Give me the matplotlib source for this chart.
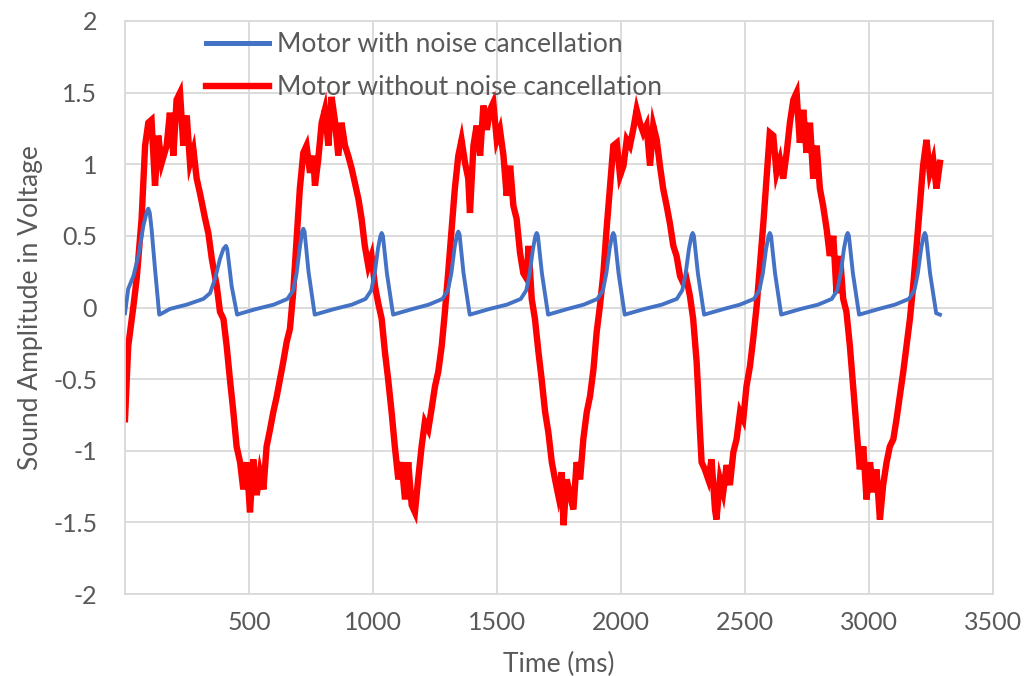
import matplotlib
matplotlib.use("Agg")
import matplotlib.pyplot as plt

# Motor sound recordings: amplitude (V) against time (ms)
time_with = [0, 13, 34, 54, 74, 88, 94, 100, 107, 121, 138, 150, 181, 249, 316, 343, 363, 383, 397, 407,
             412, 417, 430, 452, 470, 530, 600, 655, 678, 692, 705, 714, 719, 724, 740, 765, 785, 845,
             915, 970, 993, 1007, 1020, 1030, 1035, 1040, 1056, 1081, 1100, 1160, 1225, 1280, 1302, 1316,
             1329, 1339, 1344, 1349, 1365, 1390, 1410, 1470, 1540, 1596, 1618, 1632, 1645, 1655, 1660,
             1665, 1681, 1706, 1725, 1785, 1850, 1905, 1927, 1941, 1954, 1964, 1969, 1974, 1990, 2015,
             2035, 2095, 2165, 2225, 2247, 2261, 2274, 2284, 2289, 2294, 2310, 2335, 2355, 2415, 2480,
             2536, 2558, 2572, 2585, 2595, 2600, 2605, 2621, 2646, 2665, 2725, 2795, 2850, 2872, 2886,
             2899, 2909, 2914, 2919, 2935, 2960, 2980, 3040, 3105, 3161, 3183, 3197, 3210, 3220, 3225,
             3230, 3246, 3271, 3286]
amp_with = [-0.04, 0.13, 0.22, 0.36, 0.57, 0.67, 0.69, 0.66, 0.55, 0.27, -0.05, -0.04, -0.01, 0.02, 0.06,
            0.10, 0.20, 0.34, 0.41, 0.43, 0.41, 0.34, 0.15, -0.05, -0.04, -0.01, 0.02, 0.06, 0.12, 0.24,
            0.42, 0.53, 0.55, 0.53, 0.25, -0.05, -0.04, -0.01, 0.02, 0.06, 0.12, 0.24, 0.41, 0.50, 0.52,
            0.50, 0.24, -0.05, -0.04, -0.01, 0.02, 0.06, 0.12, 0.24, 0.42, 0.51, 0.53, 0.51, 0.24, -0.05,
            -0.04, -0.01, 0.02, 0.06, 0.12, 0.24, 0.41, 0.50, 0.52, 0.50, 0.24, -0.05, -0.04, -0.01, 0.02,
            0.06, 0.12, 0.24, 0.41, 0.50, 0.52, 0.50, 0.24, -0.05, -0.04, -0.01, 0.02, 0.06, 0.12, 0.24,
            0.41, 0.50, 0.52, 0.50, 0.24, -0.05, -0.04, -0.01, 0.02, 0.06, 0.12, 0.24, 0.41, 0.50, 0.52,
            0.50, 0.24, -0.05, -0.04, -0.01, 0.02, 0.06, 0.12, 0.24, 0.41, 0.50, 0.52, 0.50, 0.24, -0.05,
            -0.04, -0.01, 0.02, 0.06, 0.12, 0.24, 0.41, 0.50, 0.52, 0.50, 0.24, -0.04, -0.05]

time_without = [0, 13, 34, 47, 67, 81, 94, 107, 121, 134, 148, 168, 181, 195, 208, 222, 235, 249, 262, 276,
                289, 302, 323, 336, 350, 370, 383, 397, 410, 423, 437, 450, 464, 477, 491, 504, 517, 531,
                544, 558, 571, 585, 598, 612, 625, 638, 652, 665, 678, 692, 705, 719, 732, 746, 759, 766,
                779, 793, 806, 820, 833, 846, 860, 873, 887, 900, 914, 927, 941, 954, 967, 981, 994, 1008,
                1021, 1035, 1048, 1061, 1075, 1088, 1102, 1115, 1129, 1142, 1156, 1169, 1182, 1196, 1209,
                1223, 1236, 1250, 1263, 1277, 1290, 1303, 1317, 1330, 1344, 1357, 1371, 1384, 1391, 1405,
                1418, 1432, 1445, 1459, 1472, 1485, 1499, 1512, 1526, 1539, 1553, 1566, 1579, 1593, 1606,
                1620, 1627, 1640, 1653, 1667, 1680, 1694, 1707, 1721, 1734, 1747, 1761, 1768, 1781, 1795,
                1808, 1821, 1835, 1848, 1862, 1875, 1889, 1902, 1915, 1929, 1942, 1956, 1969, 1983, 1996,
                2010, 2023, 2036, 2049, 2063, 2076, 2090, 2103, 2117, 2130, 2144, 2157, 2170, 2184, 2197,
                2211, 2224, 2238, 2251, 2264, 2278, 2291, 2305, 2312, 2318, 2325, 2338, 2352, 2365, 2379,
                2385, 2399, 2412, 2426, 2439, 2453, 2466, 2480, 2493, 2506, 2520, 2533, 2547, 2560, 2574,
                2587, 2600, 2614, 2627, 2641, 2654, 2668, 2681, 2695, 2708, 2721, 2735, 2748, 2762, 2775,
                2789, 2802, 2815, 2829, 2842, 2856, 2869, 2883, 2896, 2909, 2923, 2936, 2950, 2963, 2977,
                2990, 3004, 3017, 3030, 3044, 3057, 3071, 3084, 3098, 3111, 3124, 3138, 3151, 3165, 3178,
                3192, 3205, 3218, 3232, 3245, 3259, 3272, 3286]
amp_without = [-0.78, -0.27, 0.01, 0.20, 0.62, 1.13, 1.29, 1.31, 0.85, 1.20, 1.01, 1.13, 1.36, 1.06, 1.45,
               1.50, 1.13, 1.34, 1.01, 1.10, 0.90, 0.80, 0.62, 0.52, 0.34, 0.15, -0.03, -0.08, -0.27, -0.50,
               -0.73, -0.97, -1.08, -1.27, -1.08, -1.43, -1.06, -1.31, -1.15, -1.27, -0.97, -0.85, -0.73,
               -0.62, -0.50, -0.38, -0.24, -0.15, 0.10, 0.48, 0.83, 1.08, 1.13, 0.94, 1.06, 0.85, 1.03, 1.29,
               1.38, 1.13, 1.47, 1.31, 1.06, 1.29, 1.13, 1.06, 0.97, 0.87, 0.76, 0.62, 0.43, 0.29, 0.36, 0.15,
               0.03, -0.08, -0.31, -0.50, -0.73, -0.97, -1.20, -1.08, -1.34, -1.08, -1.38, -1.43, -1.20,
               -0.97, -0.80, -0.85, -0.71, -0.55, -0.45, -0.27, -0.03, 0.24, 0.55, 0.83, 1.06, 1.17, 1.01,
               0.90, 0.66, 1.13, 1.27, 1.06, 1.41, 1.24, 1.38, 1.43, 1.17, 1.24, 1.06, 0.78, 0.99, 0.71,
               0.62, 0.38, 0.24, 0.20, 0.43, 0.06, -0.08, -0.31, -0.50, -0.73, -0.87, -1.08, -1.20, -1.31,
               -1.15, -1.52, -1.20, -1.31, -1.41, -1.08, -1.20, -0.92, -0.73, -0.62, -0.43, -0.17, 0.01,
               0.24, 0.55, 0.85, 1.13, 1.15, 0.92, 0.99, 1.17, 1.13, 1.24, 1.38, 1.29, 1.22, 1.27, 0.99,
               1.27, 1.17, 0.99, 0.83, 0.71, 0.59, 0.43, 0.36, 0.22, 0.17, 0.20, 0.08, -0.08, -0.38, -0.62,
               -0.85, -1.08, -1.13, -1.20, -1.06, -1.41, -1.48, -1.20, -1.29, -1.10, -1.24, -1.01, -0.92,
               -0.73, -0.78, -0.55, -0.41, -0.22, 0.01, 0.29, 0.59, 0.90, 1.22, 1.20, 0.94, 1.03, 0.90,
               1.08, 1.29, 1.45, 1.50, 1.15, 1.38, 1.08, 1.29, 0.90, 1.13, 0.83, 0.71, 0.55, 0.36, 0.50,
               0.10, 0.36, 0.06, -0.03, -0.27, -0.55, -0.85, -1.13, -0.97, -1.34, -1.08, -1.29, -1.13,
               -1.48, -1.24, -1.08, -0.97, -0.92, -0.78, -0.62, -0.45, -0.27, -0.08, 0.15, 0.43, 0.71,
               0.99, 1.17, 0.94, 1.03, 0.83, 1.01]

series_labels = ["Motor with noise cancellation", "Motor without noise cancellation"]
x_ticks = [500, 1000, 1500, 2000, 2500, 3000, 3500]
y_ticks = [-2, -1.5, -1, -0.5, 0, 0.5, 1, 1.5, 2]
x_title = "Time (ms)"
y_title = "Sound Amplitude in Voltage"

TEXT = "#595959"
GRID = "#D9D9D9"
plt.rcParams["font.family"] = ["Lato", "DejaVu Sans"]

fig = plt.figure(figsize=(10.30, 6.76), dpi=100)
ax = fig.add_axes([125 / 1030, 1 - 594 / 676, (993 - 125) / 1030, (594 - 21) / 676])

ax.plot(time_with, amp_with, color="#4472C4", lw=2.8, label=series_labels[0], zorder=3,
        solid_joinstyle="round")
ax.plot(time_without, amp_without, color="#FF0000", lw=4.6, label=series_labels[1], zorder=2,
        solid_joinstyle="miter")

ax.set_xlim(0, 3500)
ax.set_ylim(-2, 2)
ax.set_xticks(x_ticks)
ax.set_xticklabels([str(v) for v in x_ticks])
ax.set_yticks(y_ticks)
ax.set_yticklabels(["{:g}".format(v) for v in y_ticks])
ax.tick_params(length=0, labelsize=18, colors=TEXT)
ax.tick_params(axis="x", pad=12)
ax.tick_params(axis="y", pad=20)
ax.grid(True, color=GRID, lw=1.3)
ax.set_axisbelow(True)
for s in ax.spines.values():
    s.set_color(GRID)
    s.set_linewidth(1.3)

ax.set_xlabel(x_title, fontsize=19, color=TEXT, labelpad=13)
ax.set_ylabel(y_title, fontsize=19, color=TEXT, labelpad=7)

leg = ax.legend(loc="upper left", bbox_to_anchor=(0.066, 1.022), frameon=False, fontsize=19,
                labelcolor=TEXT, handlelength=2.4, handletextpad=0.3, labelspacing=0.68)
leg.get_lines()[0].set_linewidth(3.6)
leg.get_lines()[1].set_linewidth(4.6)

fig.savefig("out.png", dpi=100, facecolor="white")
